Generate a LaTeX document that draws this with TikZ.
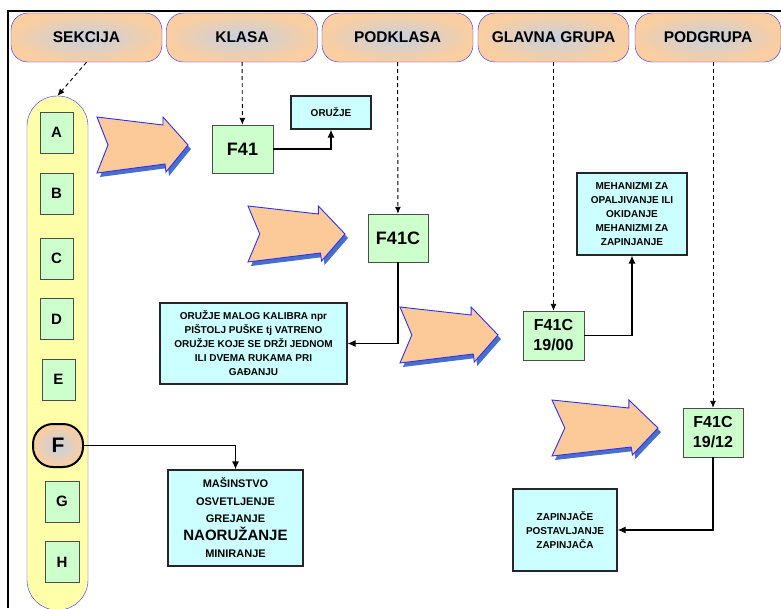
\documentclass[tikz,border=0pt]{standalone}
\usepackage{fontspec}
\setmainfont{Liberation Sans}
\usetikzlibrary{arrows.meta}
\definecolor{hdrorange}{RGB}{250,206,160}
\definecolor{hdrgray}{RGB}{198,208,224}
\definecolor{lineblue}{RGB}{45,45,255}
\definecolor{boxgreen}{RGB}{204,255,204}
\definecolor{boxcyan}{RGB}{204,255,255}
\definecolor{pillyellow}{RGB}{255,255,170}
\definecolor{chevfill}{RGB}{252,202,152}
\definecolor{chevshadow}{RGB}{72,112,200}

\begin{document}
\begin{tikzpicture}[x=1pt, y=-1pt]
    \tikzstyle{head} = [rectangle, rounded corners=17pt, draw=lineblue, shading=radial,
                        inner color=hdrgray, outer color=hdrorange, minimum width=151pt,
                        minimum height=49pt, font=\fontsize{15.5}{18}\selectfont\bfseries]
    \tikzstyle{letter} = [rectangle, draw=black!70, fill=boxgreen, inner sep=0pt,
                          minimum width=33pt, minimum height=41pt,
                          font=\fontsize{15}{18}\selectfont\bfseries]
    \tikzstyle{fcode} = [rectangle, draw=black!70, fill=boxgreen, inner sep=0pt, align=center,
                         minimum width=61pt, minimum height=48pt,
                         font=\fontsize{16}{20}\selectfont\bfseries]
    \tikzstyle{note} = [rectangle, draw=black!85, fill=boxcyan, line width=1.2pt, inner sep=1pt,
                        align=center, font=\fontsize{10}{14}\selectfont\bfseries]
    \tikzstyle{link} = [-{Latex[length=8pt,width=7pt]}, line width=1.2pt]
    \tikzstyle{drop} = [dash pattern=on 4pt off 3pt, -{Latex[length=7pt,width=6pt]}, line width=0.9pt]
  \useasboundingbox (0,0) rectangle (781,608);
  \draw[line width=2pt] (781,11) -- (8,11) -- (8,608);
  % column headers
  \node[head](sek) at (86.5,37.5){SEKCIJA};
  \node[head](kla) at (242,37.5){KLASA};
  \node[head](pkl) at (397.5,37.5){PODKLASA};
  \node[head](glg) at (553.5,37.5){GLAVNA GRUPA};
  \node[head, minimum width=146pt](pgr) at (708,37.5){PODGRUPA};
  % sections
  \node[rectangle, draw=lineblue, fill=pillyellow, rounded corners=30pt,
        minimum width=61pt, minimum height=514pt](pill) at (57.5,353){};
  \node[letter](seca) at (56.5,132.5){A};
  \node[letter](secb) at (56.5,193.5){B};
  \node[letter](secc) at (56.5,258.5){C};
  \node[letter](secd) at (56.5,319){D};
  \node[letter](sece) at (58.5,379.5){E};
  \node[rectangle, rounded corners=20pt, draw=black, line width=2pt, shading=radial,
        inner color=hdrgray, outer color=hdrorange, minimum width=50pt, minimum height=43pt,
        font=\fontsize{21}{24}\selectfont\bfseries](secf) at (58,445.5){F};
  \node[letter, minimum width=34pt](secg) at (62,501.5){G};
  \node[letter, minimum width=34pt](sech) at (62,562){H};
  % big arrows
  \foreach \x/\y/\w in {97/117/91, 248/206/97, 400/307/98, 552/400/106}{
    \fill[chevshadow, shift={(\x+3,\y+4)}, xscale=\w/91]
      (0,0) -- (66,8) -- (66,0) -- (91,28) -- (69,55) -- (68,47) -- (0,56) -- (11,28) -- cycle;
    \filldraw[fill=chevfill, draw=lineblue, line width=0.9pt, shift={(\x,\y)}, xscale=\w/91]
      (0,0) -- (66,8) -- (66,0) -- (91,28) -- (69,55) -- (68,47) -- (0,56) -- (11,28) -- cycle;
  }
  % codes
  \node[fcode, font=\fontsize{18}{20}\selectfont\bfseries](f41) at (242.5,149){F41};
  \node[fcode, minimum width=60pt, font=\fontsize{18}{20}\selectfont\bfseries](f41c) at (398,238){F41C};
  \node[fcode, minimum height=49pt](f4100) at (553.5,335.5){F41C\\19/00};
  \node[fcode, minimum width=60pt, minimum height=49pt](f4112) at (713,432.5){F41C\\19/12};
  % descriptions
  \node[note, minimum width=80pt, minimum height=33pt](oruz) at (331,112.5){ORUŽJE};
  \node[note, minimum width=187pt, minimum height=81pt](malo) at (253.5,343.5)
       {ORUŽJE MALOG KALIBRA npr\\PIŠTOLJ PUŠKE tj VATRENO\\ORUŽJE KOJE SE DRŽI JEDNOM\\ILI DVEMA RUKAMA PRI\\GAĐANJU};
  \node[note, minimum width=110pt, minimum height=82pt](meha) at (632,214)
       {MEHANIZMI ZA\\OPALJIVANJE ILI\\OKIDANJE\\MEHANIZMI ZA\\ZAPINJANJE};
  \node[note, minimum width=104pt, minimum height=82pt](zapi) at (565,530)
       {ZAPINJAČE\\POSTAVLJANJE\\ZAPINJAČA};
  \node[note, minimum width=135pt, minimum height=96pt, font=\fontsize{11}{17.5}\selectfont\bfseries](masi) at (235.5,518)
       {MAŠINSTVO\\OSVETLJENJE\\GREJANJE\\{\fontsize{15}{17.5}\selectfont NAORUŽANJE}\\MINIRANJE};
  % links
  \draw[drop] (sek.south) -- (pill.north);
  \draw[drop] (kla) -- (f41);
  \draw[drop] (pkl) -- (f41c);
  \draw[drop] (glg) -- (f4100);
  \draw[drop] (pgr.south -| f4112) -- (f4112);
  \draw[link] (f41) -| (oruz);
  \draw[link] (f41c) |- (malo);
  \draw[link] (f4100) -| (meha);
  \draw[link] (f4112) |- (zapi);
  \draw[link] (secf) -| (masi);
\end{tikzpicture}
\end{document}
